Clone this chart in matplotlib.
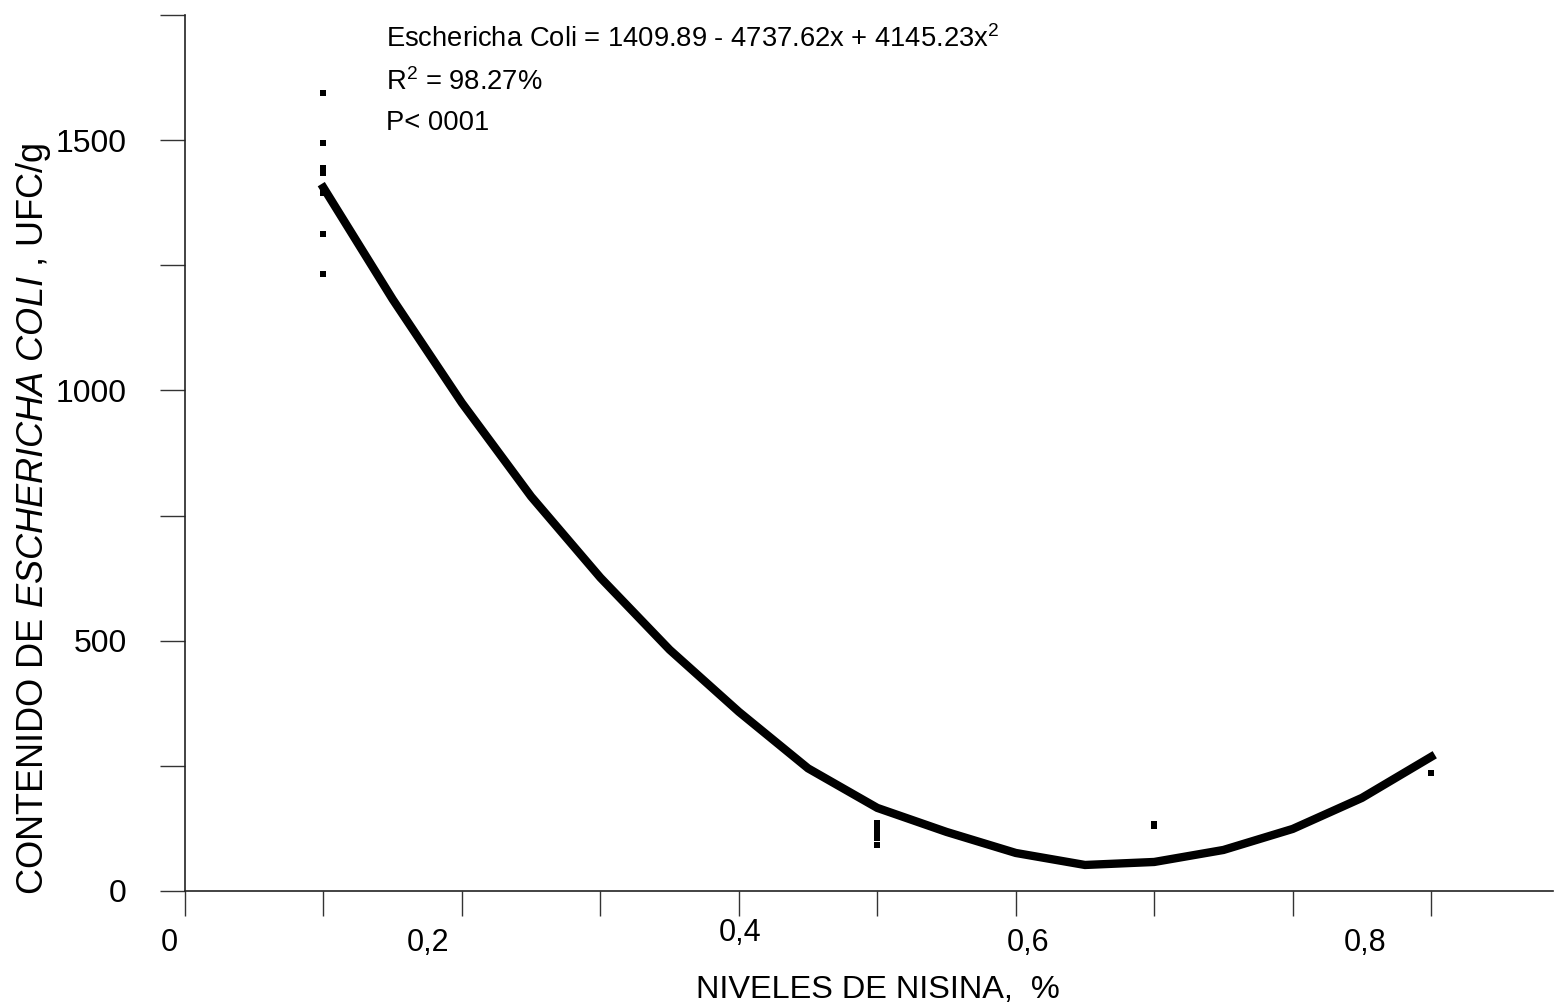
import numpy as np
import matplotlib.pyplot as plt

plt.rcParams['font.family'] = ['Liberation Sans', 'DejaVu Sans']
plt.rcParams['mathtext.fontset'] = 'custom'
plt.rcParams['mathtext.rm'] = 'Liberation Sans'
plt.rcParams['mathtext.it'] = 'Liberation Sans:italic'

# fitted curve
curve_x = [0.10, 0.15, 0.20, 0.25, 0.30, 0.35, 0.40, 0.45, 0.50,
           0.55, 0.60, 0.65, 0.70, 0.75, 0.80, 0.85, 0.90]
curve_y = [1405, 1182, 975, 788, 626, 482, 358, 245, 166,
           118, 76, 52, 58, 82, 124, 186, 268]

# observations
obs_x = [0.1, 0.1, 0.1, 0.1, 0.1, 0.1, 0.1,
         0.5, 0.5, 0.5, 0.5, 0.5,
         0.7, 0.7,
         0.9]
obs_y = [1594, 1494, 1444, 1434, 1394, 1312, 1232,
         136, 126, 116, 106, 92,
         134, 130,
         236]

xtick_labels = ['0', '0,2', '0,4', '0,6', '0,8']
xlabel_pos = [-0.0116, 0.1756, 0.401, 0.609, 0.8526]
xlabel_drop = [52, 52, 42, 52, 52]   # px below the axis line (label centres)

fig = plt.figure(figsize=(15.55, 10.07), dpi=100)
ax = fig.add_axes([185/1555, 116/1007, (1553-185)/1555, (891-15)/1007])

ax.plot(curve_x, curve_y, color='black', lw=6, solid_joinstyle='miter')
ax.plot(obs_x, obs_y, 's', color='black', ms=4, mew=0)

ax.set_xlim(0, 0.988)
ax.set_ylim(0, 1750)

for s in ['top', 'right']:
    ax.spines[s].set_visible(False)
for s in ['left', 'bottom']:
    ax.spines[s].set_linewidth(1.2)
    ax.spines[s].set_color('#222222')

ax.set_xticks(np.arange(0, 0.95, 0.1))
ax.set_xticklabels([])
ax.set_yticks(np.arange(0, 1751, 250))
ax.set_yticklabels(['0', '', '500', '', '1000', '', '1500', ''], fontsize=23)
ax.tick_params(axis='both', direction='out', length=18, width=1.0, color='#333333')
ax.tick_params(axis='y', pad=24)

# x tick labels (placed by hand in the original)
for lab, xp, dy in zip(xtick_labels, xlabel_pos, xlabel_drop):
    ax.annotate(lab, xy=(xp, 0), xycoords='data', annotation_clip=False,
                xytext=(0, -dy * 0.72), textcoords='offset points',
                ha='center', va='center', fontsize=22)

fig.text(878/1555, 1 - 990/1007, 'NIVELES DE NISINA,  %', ha='center', va='center', fontsize=23.4)
fig.text(34/1555, 1 - 519/1007, r'CONTENIDO DE $\mathit{ESCHERICHA\ COLI}$ , UFC/g',
         rotation=90, ha='center', va='center', fontsize=26)

fig.text(386/1555, 1 - 47/1007, 'Eschericha Coli = 1409.89 - 4737.62x + 4145.23x$^2$',
         ha='left', va='baseline', fontsize=19.7)
fig.text(386/1555, 1 - 90/1007, 'R$^2$ = 98.27%', ha='left', va='baseline', fontsize=19.7)
fig.text(386/1555, 1 - 130/1007, 'P< 0001', ha='left', va='baseline', fontsize=19.7)

fig.savefig('out.png', dpi=100)
